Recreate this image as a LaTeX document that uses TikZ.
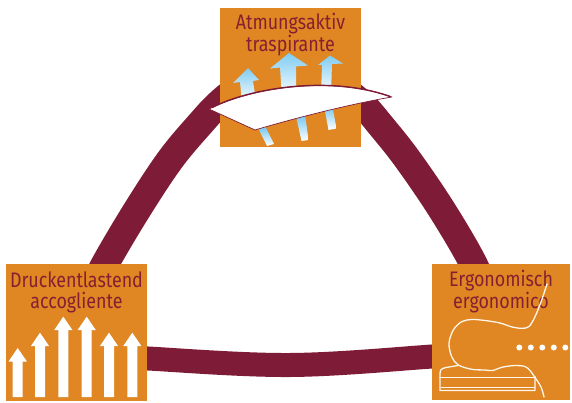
\documentclass[tikz,border=0pt]{standalone}
\usepackage{fontspec}
\setmainfont{Fira Sans}[FakeStretch=0.85]
\definecolor{boxorange}{RGB}{224,134,34}
\definecolor{bandred}{RGB}{126,27,54}
\definecolor{textred}{RGB}{132,32,50}
\definecolor{airblue}{RGB}{128,204,242}
\definecolor{airdeep}{RGB}{110,196,240}
\definecolor{linecream}{RGB}{255,247,235}
\tikzset{
  box/.style={fill=boxorange, draw=none, inner sep=0pt},
  band/.style={draw=bandred},
  boxlabel/.style={text=textred, font=\fontsize{21}{20.8}\selectfont, align=center, inner sep=0pt, anchor=base},
  reliefarrow/.style={fill=white, draw=none},
  airup/.style={top color=airblue, bottom color=white, draw=none},
  airdown/.style={top color=airdeep, bottom color=white, draw=none},
  sheet/.style={fill=white, draw=bandred, line width=0.7pt, line join=round},
  pillowline/.style={draw=linecream, line width=1.3pt, line join=round, line cap=round},
  dot/.style={circle, fill=white, inner sep=0pt, minimum size=6pt},
}
\begin{document}
\begin{tikzpicture}[x=1pt,y=-1pt]
\useasboundingbox (0,0) rectangle (572,403);
% ring
\draw[band, line width=28pt] plot[smooth, tension=0.6] coordinates {(90,295) (105,264) (137,210) (170,160) (200,124) (222,101) (255,75)};
\draw[band, line width=28pt] plot[smooth, tension=0.6] coordinates {(335,83) (361,103) (382,127) (408,160) (442,210) (473,263) (488,300)};
\draw[band, line width=24pt] plot[smooth, tension=0.6] coordinates {(120,356) (148,358.5) (290,365) (432,356.5) (460,354)};
% boxes
\node[box, minimum width=141pt, minimum height=139pt] (top) at (290.5,77.5) {};
\node[box, minimum width=141pt, minimum height=137pt] (left) at (76.5,332.5) {};
\node[box, minimum width=138pt, minimum height=136pt] (right) at (501,332) {};
% labels (base anchor = baseline of the second line)
\node[boxlabel] (toplabel) at (290.5,51.7) {Atmungsaktiv\\traspirante};
\node[boxlabel] (leftlabel) at (76.5,308.3) {Druckentlastend\\accogliente};
\node[boxlabel] (rightlabel) at (501,308.3) {Ergonomisch\\ergonomico};
% relief arrows
\foreach \cx/\tip in {17.7/348, 40/332.7, 63.3/316.7, 86.7/316.7, 109/332.7, 132.3/332.7}{
  \fill[reliefarrow] ({\cx-5},397) -- ({\cx-5},{\tip+13.5}) -- ({\cx-9.2},{\tip+13.5}) -- (\cx,\tip) -- ({\cx+9.2},{\tip+13.5}) -- ({\cx+5},{\tip+13.5}) -- ({\cx+5},397) -- cycle;
}
% air arrows (lower parts)
\shade[airdown] (258,128) -- (265,126) -- (274,144) -- (267,146) -- cycle;
\shade[airdown] (296,116) -- (305,114) -- (308.5,140) -- (301.5,141) -- cycle;
\shade[airdown] (324,106) -- (332,104.5) -- (336.5,128.5) -- (328.5,130) -- cycle;
% air arrows (upper parts)
\shade[airup] (242,103) -- (240,82) -- (233,83) -- (248,68) -- (259,80) -- (253,81) -- (256,101) -- cycle;
\shade[airup] (282,98) -- (280,67.5) -- (270,68.5) -- (289,53) -- (308,65.5) -- (296,66.5) -- (296,97) -- cycle;
\shade[airup] (321,94) -- (322,65) -- (318,65) -- (330,55.5) -- (343,63.5) -- (332,64) -- (331,94) -- cycle;
% sheet
\draw[sheet] (209,109) .. controls (250,88) and (330,75) .. (392,97) .. controls (355,103) and (295,118) .. (255,130) -- cycle;
\draw[draw=bandred, line width=1.4pt] (212,107.6) .. controls (250,88) and (330,75) .. (390,96.5);
% pillow and head
\draw[pillowline] plot[smooth, tension=0.55] coordinates {(547,284) (541.7,300) (535,316.7) (529,326.5) (522,328.3) (512,327) (500,323) (485,320.5) (471.7,319.5) (461.7,321.7) (453.3,330) (449,343.3) (451.7,356.7) (458.3,365) (471.7,369.3) (485,370) (493,370.5) (501.7,367.3) (515,365.5) (525,366.5) (530,370.5) (534,376) (541,387) (544,397)};
\draw[pillowline] (458,365.5) -- (446,367.5) .. controls (441,368.5) and (440,370) .. (440,374) -- (440,390.5) -- (535,390.5) -- (535,376.5);
\draw[pillowline] (440,377.5) -- (535,377.5);
\draw[draw=linecream, line width=0.7pt] (441,387.5) -- (535,387.5);
\foreach \dx [count=\i] in {519.3,530.8,542.3,553.8,565.3}{
  \node[dot] (dot\i) at (\dx,347.5) {};
}
\end{tikzpicture}
\end{document}
